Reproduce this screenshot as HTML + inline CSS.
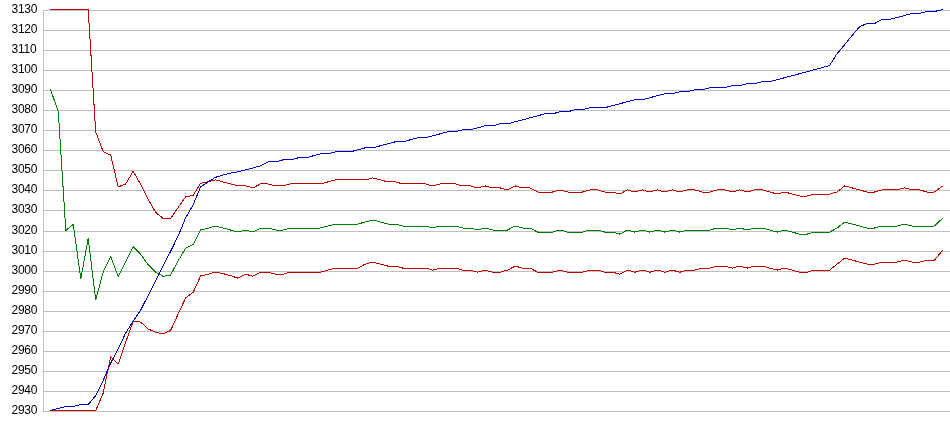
<!DOCTYPE html>
<html><head><meta charset="utf-8"><title>chart</title>
<style>
html,body{margin:0;padding:0;background:#fff;}
body{width:950px;height:435px;overflow:hidden;font-family:"Liberation Sans",sans-serif;}
svg{display:block;}
text{font-family:"Liberation Sans",sans-serif;font-size:12px;letter-spacing:-0.25px;fill:#000;}
.l{fill:none;stroke-width:1;stroke-linejoin:bevel;shape-rendering:crispEdges;}
</style></head><body>
<svg width="950" height="435" viewBox="0 0 950 435">
<rect width="950" height="435" fill="#fff"/>
<g fill="#c0c0c0" shape-rendering="crispEdges">
<rect x="43" y="10" width="1" height="402"/>
<rect x="43" y="10" width="907" height="1"/>
<rect x="43" y="30" width="907" height="1"/>
<rect x="43" y="50" width="907" height="1"/>
<rect x="43" y="70" width="907" height="1"/>
<rect x="43" y="90" width="907" height="1"/>
<rect x="43" y="110" width="907" height="1"/>
<rect x="43" y="130" width="907" height="1"/>
<rect x="43" y="150" width="907" height="1"/>
<rect x="43" y="170" width="907" height="1"/>
<rect x="43" y="190" width="907" height="1"/>
<rect x="43" y="210" width="907" height="1"/>
<rect x="43" y="231" width="907" height="1"/>
<rect x="43" y="251" width="907" height="1"/>
<rect x="43" y="271" width="907" height="1"/>
<rect x="43" y="291" width="907" height="1"/>
<rect x="43" y="311" width="907" height="1"/>
<rect x="43" y="331" width="907" height="1"/>
<rect x="43" y="351" width="907" height="1"/>
<rect x="43" y="371" width="907" height="1"/>
<rect x="43" y="391" width="907" height="1"/>
<rect x="43" y="411" width="907" height="1"/>
</g>
<g style="will-change:transform">
<text x="11.5" y="13">3130</text>
<text x="11.5" y="33">3120</text>
<text x="11.5" y="53">3110</text>
<text x="11.5" y="73">3100</text>
<text x="11.5" y="93">3090</text>
<text x="11.5" y="113">3080</text>
<text x="11.5" y="133">3070</text>
<text x="11.5" y="153">3060</text>
<text x="11.5" y="173">3050</text>
<text x="11.5" y="193">3040</text>
<text x="11.5" y="213">3030</text>
<text x="11.5" y="234">3020</text>
<text x="11.5" y="254">3010</text>
<text x="11.5" y="274">3000</text>
<text x="11.5" y="294">2990</text>
<text x="11.5" y="314">2980</text>
<text x="11.5" y="334">2970</text>
<text x="11.5" y="354">2960</text>
<text x="11.5" y="374">2950</text>
<text x="11.5" y="394">2940</text>
<text x="11.5" y="414">2930</text>
</g>
<polyline class="l" stroke="#c00000" points="50.4,9.5 58.3,9.5 65.8,9.5 73.3,9.5 80.8,9.5 88.2,9.5 95.7,131.8 103.2,151.7 110.7,155.1 118.2,186.9 125.7,183.9 133.2,171.3 140.7,184.5 148.2,199.2 155.6,212.4 163.1,218.4 170.6,218.4 178.1,207.6 185.6,197.0 193.1,195.4 200.6,183.3 208.1,181.9 215.5,179.9 223.0,181.9 230.5,183.9 238.0,185.9 245.5,185.9 253.0,187.9 260.5,183.9 268.0,183.9 275.5,185.9 282.9,185.9 290.4,183.9 297.9,183.9 305.4,183.9 312.9,183.9 320.4,183.9 327.9,181.9 335.4,179.9 342.9,179.9 350.3,179.9 357.8,179.9 365.3,179.9 372.8,177.9 380.3,179.9 387.8,181.9 395.3,181.9 402.8,183.9 410.2,183.9 417.7,183.9 425.2,183.9 432.7,185.9 440.2,183.9 447.7,183.9 455.2,183.9 462.7,185.9 470.2,185.9 477.6,187.9 485.1,185.9 492.6,187.9 500.1,187.9 507.6,189.9 515.1,185.9 522.6,187.9 530.1,187.9 537.6,192.0 545.0,192.0 552.5,192.0 560.0,189.9 567.5,192.0 575.0,192.0 582.5,192.0 590.0,189.9 597.5,189.9 604.9,192.0 612.4,192.0 619.9,194.0 627.4,189.9 634.9,192.0 642.4,189.9 649.9,192.0 657.4,189.9 664.9,192.0 672.3,189.9 679.8,192.0 687.3,189.9 694.8,189.9 702.3,192.0 709.8,192.0 717.3,189.9 724.8,189.9 732.3,192.0 739.7,189.9 747.2,192.0 754.7,189.9 762.2,189.9 769.7,192.0 777.2,194.0 784.7,192.0 792.2,194.0 799.6,196.0 807.1,196.0 814.6,194.0 822.1,194.0 829.6,194.0 837.1,192.0 844.6,185.9 852.1,187.9 859.6,189.9 867.0,192.0 874.5,192.0 882.0,189.9 889.5,189.9 897.0,189.9 904.5,187.9 912.0,189.9 919.5,189.9 927.0,192.0 934.4,192.0 942.9,185.9"/>
<polyline class="l" stroke="#008000" points="50.4,88.9 58.3,112.0 65.8,230.5 73.3,224.4 80.8,279.0 88.2,238.1 95.7,300.0 103.2,272.0 110.7,256.5 118.2,276.4 125.7,261.3 133.2,246.7 140.7,254.3 148.2,264.9 155.6,272.0 163.1,276.4 170.6,275.0 178.1,260.9 185.6,248.1 193.1,244.5 200.6,230.0 208.1,228.4 215.5,226.0 223.0,228.0 230.5,230.0 238.0,232.1 245.5,230.0 253.0,232.1 260.5,228.0 268.0,228.0 275.5,230.0 282.9,230.0 290.4,228.0 297.9,228.0 305.4,228.0 312.9,228.0 320.4,228.0 327.9,226.0 335.4,224.0 342.9,224.0 350.3,224.0 357.8,224.0 365.3,222.0 372.8,220.0 380.3,222.0 387.8,224.0 395.3,224.0 402.8,226.0 410.2,226.0 417.7,226.0 425.2,226.0 432.7,228.0 440.2,226.0 447.7,226.0 455.2,226.0 462.7,228.0 470.2,228.0 477.6,230.0 485.1,228.0 492.6,230.0 500.1,230.0 507.6,230.0 515.1,226.0 522.6,228.0 530.1,228.0 537.6,232.1 545.0,232.1 552.5,232.1 560.0,230.0 567.5,232.1 575.0,232.1 582.5,232.1 590.0,230.0 597.5,230.0 604.9,232.1 612.4,232.1 619.9,234.1 627.4,230.0 634.9,232.1 642.4,230.0 649.9,232.1 657.4,230.0 664.9,232.1 672.3,230.0 679.8,232.1 687.3,230.0 694.8,230.0 702.3,230.0 709.8,230.0 717.3,228.0 724.8,228.0 732.3,230.0 739.7,228.0 747.2,230.0 754.7,228.0 762.2,228.0 769.7,230.0 777.2,232.1 784.7,230.0 792.2,232.1 799.6,234.1 807.1,234.1 814.6,232.1 822.1,232.1 829.6,232.1 837.1,228.0 844.6,222.0 852.1,224.0 859.6,226.0 867.0,228.0 874.5,228.0 882.0,226.0 889.5,226.0 897.0,226.0 904.5,224.0 912.0,226.0 919.5,226.0 927.0,226.0 934.4,226.0 942.9,218.0"/>
<polyline class="l" stroke="#c00000" points="50.4,410.5 58.3,410.5 65.8,410.5 73.3,410.5 80.8,410.5 88.2,410.5 95.7,410.5 103.2,393.1 110.7,356.4 118.2,364.0 125.7,342.3 133.2,321.1 140.7,322.1 148.2,329.1 155.6,332.1 163.1,333.9 170.6,330.5 178.1,314.1 185.6,298.0 193.1,292.4 200.6,276.0 208.1,274.4 215.5,272.0 223.0,273.6 230.5,275.6 238.0,278.2 245.5,274.2 253.0,276.2 260.5,272.2 268.0,272.2 275.5,274.2 282.9,274.2 290.4,272.2 297.9,272.2 305.4,272.2 312.9,272.2 320.4,272.2 327.9,270.1 335.4,268.1 342.9,268.1 350.3,268.1 357.8,268.1 365.3,264.1 372.8,262.1 380.3,264.1 387.8,266.1 395.3,266.1 402.8,268.1 410.2,268.1 417.7,268.1 425.2,268.1 432.7,270.1 440.2,268.1 447.7,268.1 455.2,268.1 462.7,270.1 470.2,270.1 477.6,272.2 485.1,270.1 492.6,272.2 500.1,272.2 507.6,270.1 515.1,266.1 522.6,268.1 530.1,268.1 537.6,272.2 545.0,272.2 552.5,272.2 560.0,270.1 567.5,272.2 575.0,272.2 582.5,272.2 590.0,270.1 597.5,270.1 604.9,272.2 612.4,272.2 619.9,274.2 627.4,270.1 634.9,272.2 642.4,270.1 649.9,272.2 657.4,270.1 664.9,272.2 672.3,270.1 679.8,272.2 687.3,270.1 694.8,270.1 702.3,268.1 709.8,268.1 717.3,266.1 724.8,266.1 732.3,268.1 739.7,266.1 747.2,268.1 754.7,266.1 762.2,266.1 769.7,268.1 777.2,270.1 784.7,268.1 792.2,270.1 799.6,272.2 807.1,272.2 814.6,270.1 822.1,270.1 829.6,270.1 837.1,264.1 844.6,258.1 852.1,260.1 859.6,262.1 867.0,264.1 874.5,264.1 882.0,262.1 889.5,262.1 897.0,262.1 904.5,260.1 912.0,262.1 919.5,262.1 927.0,260.1 934.4,260.1 942.9,250.1"/>
<polyline class="l" stroke="#0000c0" points="50.4,410.5 58.3,408.5 65.8,406.5 73.3,406.5 80.8,404.5 88.2,404.5 95.7,395.5 103.2,380.4 110.7,363.0 118.2,348.9 125.7,332.9 133.2,321.1 140.7,310.0 148.2,295.4 155.6,280.6 163.1,265.9 170.6,251.3 178.1,236.1 185.6,218.0 193.1,205.0 200.6,186.9 208.1,181.9 215.5,177.3 223.0,175.1 230.5,173.1 238.0,171.9 245.5,169.9 253.0,167.9 260.5,165.9 268.0,161.9 275.5,161.9 282.9,159.9 290.4,159.9 297.9,157.9 305.4,157.9 312.9,155.9 320.4,153.9 327.9,153.9 335.4,151.9 342.9,151.9 350.3,151.9 357.8,149.8 365.3,147.8 372.8,147.8 380.3,145.8 387.8,143.8 395.3,141.8 402.8,141.8 410.2,139.8 417.7,137.8 425.2,137.8 432.7,135.8 440.2,133.8 447.7,131.8 455.2,131.8 462.7,129.8 470.2,129.8 477.6,127.8 485.1,125.8 492.6,125.8 500.1,123.8 507.6,123.8 515.1,121.8 522.6,119.8 530.1,117.8 537.6,115.8 545.0,113.8 552.5,113.8 560.0,111.8 567.5,111.8 575.0,109.8 582.5,109.8 590.0,107.7 597.5,107.7 604.9,107.7 612.4,105.7 619.9,103.7 627.4,101.7 634.9,99.7 642.4,99.7 649.9,97.7 657.4,95.7 664.9,93.7 672.3,93.7 679.8,91.7 687.3,91.7 694.8,89.7 702.3,89.7 709.8,87.7 717.3,87.7 724.8,87.7 732.3,85.7 739.7,85.7 747.2,83.7 754.7,83.7 762.2,81.7 769.7,81.7 777.2,79.7 784.7,77.7 792.2,75.7 799.6,73.7 807.1,71.7 814.6,69.7 822.1,67.6 829.6,65.6 837.1,53.6 844.6,44.8 852.1,35.4 859.6,26.7 867.0,23.5 874.5,23.5 882.0,19.5 889.5,19.5 897.0,17.5 904.5,15.5 912.0,13.5 919.5,13.5 927.0,11.5 934.4,11.5 942.9,9.5"/>
</svg>
</body></html>
